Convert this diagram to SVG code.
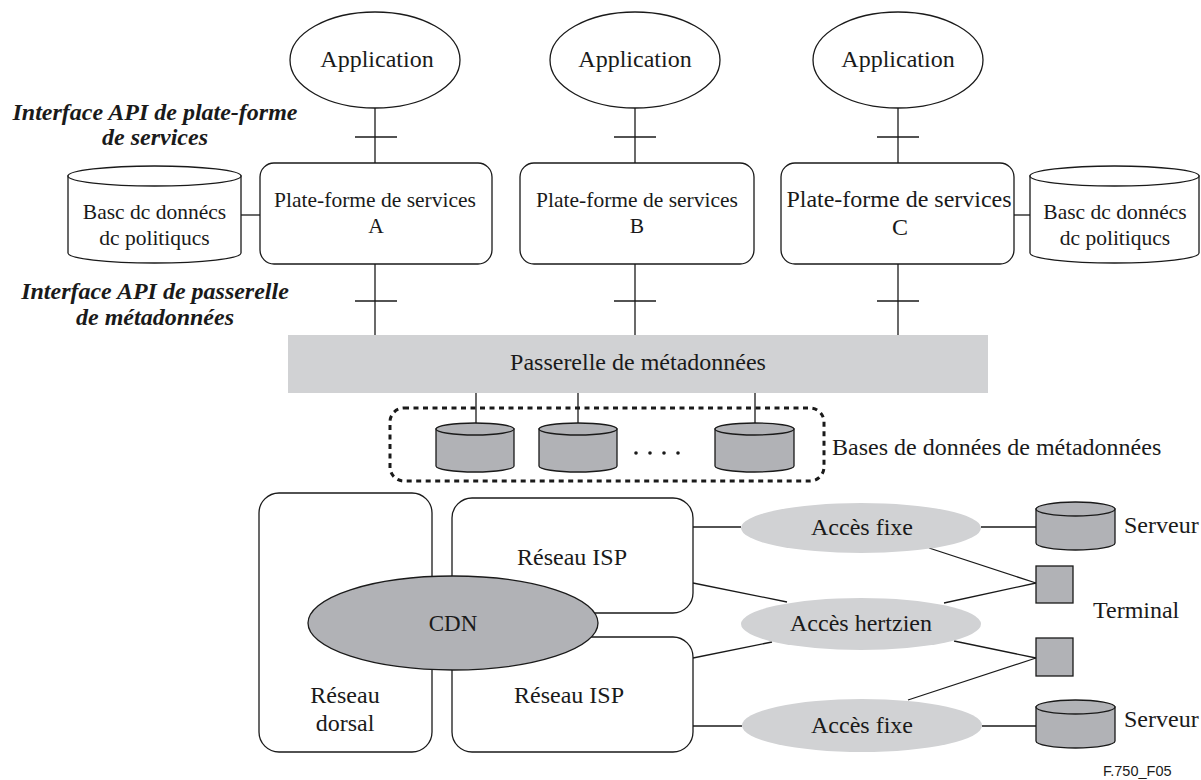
<svg xmlns="http://www.w3.org/2000/svg" width="1201" height="780" viewBox="0 0 1201 780">
<style>
text{font-family:"Liberation Serif","Times New Roman",serif;fill:#1a1a1a;text-anchor:middle}
.t24{font-size:24px}
.t21{font-size:21.5px}
.lbl{font-size:24px;font-weight:bold;font-style:italic}
.ln{stroke:#1a1a1a;stroke-width:1.3;fill:none}
.wb{fill:#fff;stroke:#1a1a1a;stroke-width:1.3}
.lg{fill:#d1d2d4;stroke:none}
.mg{fill:#b1b2b6;stroke:#1a1a1a;stroke-width:1.3}
</style>
<rect width="1201" height="780" fill="#fff"/>

<g id="connectors">
  <line class="ln" x1="375" y1="108" x2="375" y2="163"/>
  <line class="ln" x1="355" y1="137" x2="397" y2="137"/>
  <line class="ln" x1="375" y1="264" x2="375" y2="335"/>
  <line class="ln" x1="355" y1="301" x2="397" y2="301"/>
  <line class="ln" x1="635" y1="108" x2="635" y2="163"/>
  <line class="ln" x1="614" y1="137" x2="656" y2="137"/>
  <line class="ln" x1="635" y1="264" x2="635" y2="335"/>
  <line class="ln" x1="614" y1="301" x2="656" y2="301"/>
  <line class="ln" x1="898" y1="108" x2="898" y2="163"/>
  <line class="ln" x1="877" y1="137" x2="919" y2="137"/>
  <line class="ln" x1="898" y1="264" x2="898" y2="335"/>
  <line class="ln" x1="877" y1="301" x2="919" y2="301"/>
  <line class="ln" x1="241" y1="215" x2="260" y2="215"/>
  <line class="ln" x1="1014" y1="215" x2="1030" y2="215"/>
  <line class="ln" x1="476" y1="393" x2="476" y2="429"/>
  <line class="ln" x1="578" y1="393" x2="578" y2="429"/>
  <line class="ln" x1="755" y1="393" x2="755" y2="429"/>
  <line class="ln" x1="693" y1="527" x2="741" y2="527"/>
  <line class="ln" x1="693" y1="583" x2="787" y2="602"/>
  <line class="ln" x1="693" y1="658" x2="772" y2="642"/>
  <line class="ln" x1="693" y1="726" x2="742" y2="726"/>
  <line class="ln" x1="981" y1="527" x2="1036" y2="527"/>
  <line class="ln" x1="929" y1="548" x2="1036" y2="583"/>
  <line class="ln" x1="944" y1="603" x2="1036" y2="583"/>
  <line class="ln" x1="954" y1="641" x2="1036" y2="658"/>
  <line class="ln" x1="908" y1="700" x2="1036" y2="658"/>
  <line class="ln" x1="982" y1="726" x2="1036" y2="726"/>
</g>

<g id="label-api-platform">
  <text class="lbl" x="155" y="120">Interface API de plate-forme</text>
  <text class="lbl" x="155" y="145">de services</text>
</g>
<g id="label-api-gateway">
  <text class="lbl" x="155" y="299">Interface API de passerelle</text>
  <text class="lbl" x="155" y="325">de métadonnées</text>
</g>

<g id="app-a">
  <ellipse class="wb" cx="375" cy="60" rx="85" ry="48"/>
  <text class="t24" x="377" y="67">Application</text>
</g>
<g id="app-b">
  <ellipse class="wb" cx="635" cy="60" rx="85" ry="48"/>
  <text class="t24" x="635" y="67">Application</text>
</g>
<g id="app-c">
  <ellipse class="wb" cx="898" cy="60" rx="85" ry="48"/>
  <text class="t24" x="898" y="67">Application</text>
</g>

<g id="platform-a">
  <rect class="wb" x="260" y="163" width="232" height="101" rx="14"/>
  <text class="t21" x="375" y="207">Plate-forme de services</text>
  <text class="t21" x="376" y="233">A</text>
</g>
<g id="platform-b">
  <rect class="wb" x="520" y="163" width="234" height="101" rx="14"/>
  <text class="t21" x="637" y="207">Plate-forme de services</text>
  <text class="t21" x="637" y="233">B</text>
</g>
<g id="platform-c">
  <rect class="wb" x="781" y="163" width="233" height="101" rx="14"/>
  <text class="t24" x="899" y="207">Plate-forme de services</text>
  <text class="t24" x="900" y="235">C</text>
</g>

<g id="policy-db-left">
  <path class="wb" d="M68 176 V253 A86.5 10 0 0 0 241 253 V176 Z"/>
  <ellipse class="wb" cx="154.5" cy="176" rx="86.5" ry="10"/>
  <text class="t21" x="154.5" y="219">Basc dc donnécs</text>
  <text class="t21" x="154.5" y="245">dc politiqucs</text>
</g>
<g id="policy-db-right">
  <path class="wb" d="M1030 176 V253 A84.5 10 0 0 0 1199 253 V176 Z"/>
  <ellipse class="wb" cx="1114.5" cy="176" rx="84.5" ry="10"/>
  <text class="t21" x="1115" y="219">Basc dc donnécs</text>
  <text class="t21" x="1115" y="245">dc politiqucs</text>
</g>

<g id="gateway">
  <rect class="lg" x="288" y="335" width="700" height="58"/>
  <text class="t24" x="638" y="370">Passerelle de métadonnées</text>
</g>

<g id="metadata-dbs">
  <rect x="390" y="408" width="434" height="73" rx="14" fill="none" stroke="#1a1a1a" stroke-width="3" stroke-dasharray="5 4.5"/>
  <path class="mg" d="M436 429 V466 A39 6 0 0 0 514 466 V429 Z"/>
  <ellipse class="mg" cx="475" cy="429" rx="39" ry="6"/>
  <path class="mg" d="M539 429 V466 A39 6 0 0 0 617 466 V429 Z"/>
  <ellipse class="mg" cx="578" cy="429" rx="39" ry="6"/>
  <path class="mg" d="M715 429 V466 A39.5 6 0 0 0 794 466 V429 Z"/>
  <ellipse class="mg" cx="754.5" cy="429" rx="39.5" ry="6"/>
  <circle cx="636" cy="453" r="1.8" fill="#1a1a1a"/>
  <circle cx="650" cy="453" r="1.8" fill="#1a1a1a"/>
  <circle cx="664" cy="453" r="1.8" fill="#1a1a1a"/>
  <circle cx="678" cy="453" r="1.8" fill="#1a1a1a"/>
  <text class="t24" x="832" y="455" style="text-anchor:start">Bases de données de métadonnées</text>
</g>

<g id="backbone">
  <rect class="wb" x="259" y="493" width="173" height="259" rx="20"/>
  <text class="t24" x="345" y="703">Réseau</text>
  <text class="t24" x="345" y="731">dorsal</text>
</g>
<g id="isp-top">
  <rect class="wb" x="452" y="498" width="241" height="115" rx="20"/>
  <text class="t24" x="572" y="565">Réseau ISP</text>
</g>
<g id="isp-bottom">
  <rect class="wb" x="452" y="637" width="241" height="115" rx="20"/>
  <text class="t24" x="569" y="703">Réseau ISP</text>
</g>
<g id="cdn">
  <ellipse class="mg" cx="453" cy="623" rx="145" ry="47"/>
  <text style="font-size:23px" x="453" y="631">CDN</text>
</g>

<g id="access-fixed-top">
  <ellipse class="lg" cx="861" cy="528" rx="120" ry="25"/>
  <text class="t24" x="862" y="535">Accès fixe</text>
</g>
<g id="access-wireless">
  <ellipse class="lg" cx="861" cy="624" rx="120" ry="26"/>
  <text class="t24" x="861" y="631">Accès hertzien</text>
</g>
<g id="access-fixed-bottom">
  <ellipse class="lg" cx="862" cy="725.5" rx="120" ry="26.5"/>
  <text class="t24" x="862" y="733">Accès fixe</text>
</g>

<g id="server-top">
  <path class="mg" d="M1036 509 V543 A39.5 7 0 0 0 1115 543 V509 Z"/>
  <ellipse class="mg" cx="1075.5" cy="509" rx="39.5" ry="7"/>
  <text class="t24" x="1124" y="533" style="text-anchor:start">Serveur</text>
</g>
<g id="terminal-1">
  <rect class="mg" x="1036" y="566" width="37" height="37"/>
</g>
<g id="terminal-label">
  <text class="t24" x="1093" y="618" style="text-anchor:start">Terminal</text>
</g>
<g id="terminal-2">
  <rect class="mg" x="1036" y="638" width="37" height="38"/>
</g>
<g id="server-bottom">
  <path class="mg" d="M1036 707 V741 A39.5 7 0 0 0 1115 741 V707 Z"/>
  <ellipse class="mg" cx="1075.5" cy="707" rx="39.5" ry="7"/>
  <text class="t24" x="1124" y="727" style="text-anchor:start">Serveur</text>
</g>

<g id="figure-id">
  <text x="1103" y="776" style="font-family:'Liberation Sans',Arial,sans-serif;font-size:14.5px;text-anchor:start">F.750_F05</text>
</g>
</svg>
